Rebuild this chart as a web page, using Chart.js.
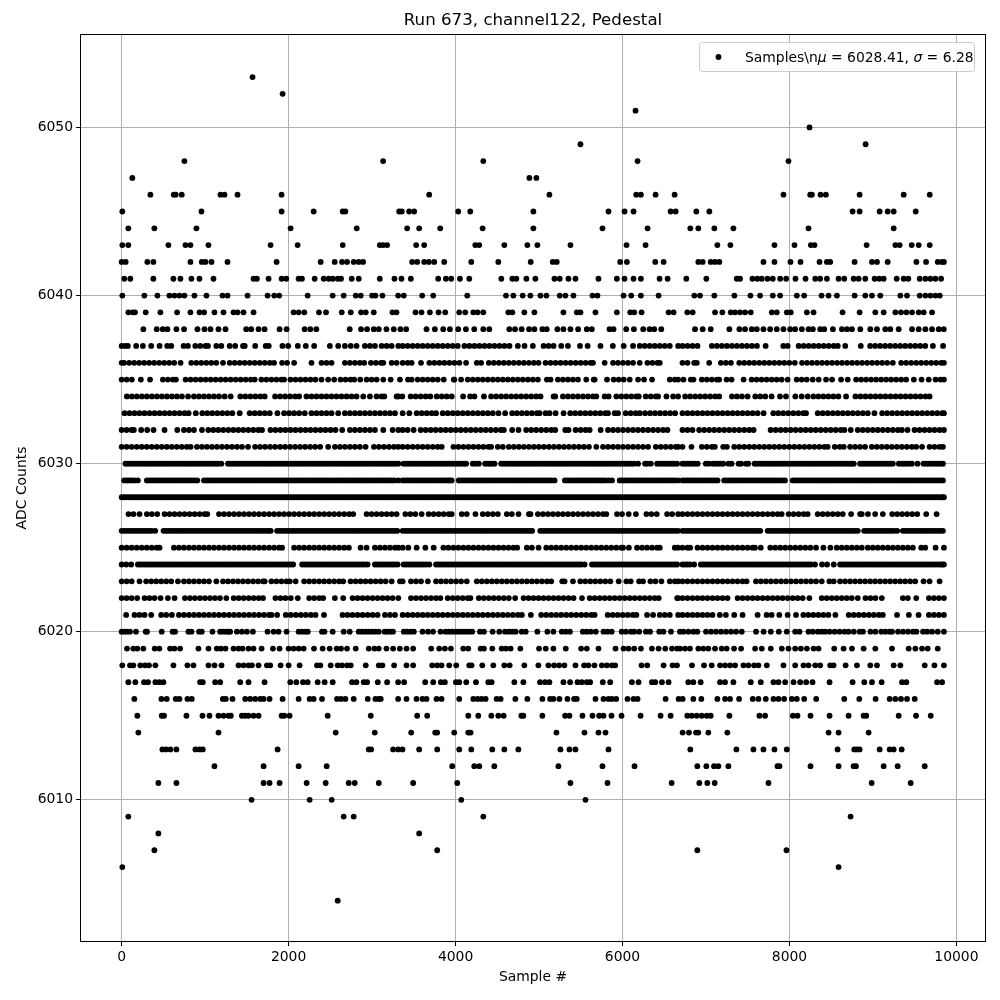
<!DOCTYPE html>
<html>
<head>
<meta charset="utf-8">
<style>body{margin:0;background:#fff}canvas{display:block}</style>
<script src="https://cdn.jsdelivr.net/npm/chart.js@4/dist/chart.umd.min.js"></script>
</head>
<body>
<canvas id="canvas" width="1000" height="1000"></canvas>
<script>
// sample numbers, one list per ADC level
const s6053=[1568];
const s6052=[1928];
const s6051=[6156];
const s6050=[8240];
const s6049=[5496,8912];
const s6048=[752,3132,4332,6180,7988];
const s6047=[128,4884,4968];
const s6046=[344,624,648,720,1184,1232,1388,1916,3684,5124,6164,6220,6396,6624,7928,8248,8268,8372,8436,8840,9368,9680];
const s6045=[8,956,1916,2300,2648,2680,3324,3356,3444,3504,4032,4176,4932,5832,6024,6132,6576,6636,6884,7040,8756,8840,9080,9176,9248,9512];
const s6044=[80,392,896,2024,2816,3420,3564,3816,4324,4932,5760,6300,6812,6908,7100,7328,8228,9248];
const s6043=[8,80,560,764,824,1040,1784,2108,2648,3092,3132,3180,3528,3624,4236,4284,4584,4860,4980,5376,6048,6276,7136,7292,7820,8060,8256,8300,8924,9268,9320,9464,9548,9680];
const s6042=[0,48,308,380,824,960,1004,1076,1268,1856,2384,2552,2640,2700,2780,2840,2892,3480,3540,3624,3680,3744,3864,4188,4512,4900,5164,5212,5972,6052,6392,6492,6908,6960,7056,7108,7160,7688,7820,8012,8132,8360,8448,8488,8780,8988,9048,9176,9520,9636,9776,9828,9850];
const s6041=[32,104,380,620,704,836,932,1100,1580,1620,1760,1916,1972,2120,2160,2312,2420,2480,2528,2588,2628,2756,2840,3092,3268,3352,3464,3792,3884,3948,4052,4164,4548,4680,4728,4848,4956,5184,5248,5352,5436,5712,5932,6024,6132,6220,6444,6540,6764,7004,7368,7408,7556,7616,7668,7736,7800,7888,7960,8072,8192,8308,8368,8448,8588,8656,8768,8828,8908,9020,9076,9128,9284,9368,9424,9560,9628,9688,9748,9816];
const s6040=[8,272,428,572,632,692,752,872,1016,1208,1268,1508,1748,1828,1888,2228,2528,2660,2804,2864,3000,3040,3124,3312,3380,3600,3732,4140,4604,4692,4804,4896,5016,5088,5248,5316,5412,5640,5700,6012,6104,6220,6432,6860,6928,7100,7340,7532,7648,7800,7888,8088,8176,8384,8468,8568,8780,8908,8988,9088,9328,9408,9560,9628,9688,9748,9800];
const s6039=[80,132,160,288,464,664,824,932,988,1112,1220,1340,1388,1460,1580,2060,2120,2188,2364,2448,2636,2744,2868,2924,3020,3244,3292,3520,3592,3692,3796,3876,4044,4116,4212,4264,4332,4632,4680,4824,4944,5292,5452,5496,5676,5932,6092,6140,6228,6552,6612,6776,6840,7108,7196,7296,7348,7408,7468,7536,7788,7848,7968,8016,8208,8288,8636,8840,9028,9128,9268,9336,9400,9468,9548,9608,9708];
const s6038=[260,420,492,548,656,748,908,992,1064,1160,1244,1492,1552,1640,1712,1892,1976,2192,2260,2332,2732,2868,2940,3020,3080,3172,3260,3340,3408,3652,3752,3852,3932,4032,4124,4224,4332,4404,4644,4712,4792,4880,4944,5040,5092,5220,5292,5376,5468,5572,5632,5844,5892,6044,6136,6248,6324,6380,6464,6868,6960,7056,7280,7400,7468,7548,7608,7688,7768,7848,7928,8008,8068,8148,8228,8280,8368,8416,8520,8628,8688,8748,8848,8968,9048,9148,9208,9308,9468,9548,9628,9708,9788,9848];
const s6037=[0,40,74,174,254,354,454,546,594,742,794,882,942,1004,1034,1134,1194,1294,1360,1454,1474,1600,1726,1762,1926,1994,2110,2206,2306,2494,2594,2674,2744,2814,2914,2974,3034,3114,3174,3234,3314,3366,3426,3486,3546,3606,3666,3726,3786,3846,3906,3966,4026,4106,4166,4226,4286,4346,4406,4466,4526,4586,4646,4746,4826,4926,5054,5114,5174,5266,5346,5490,5582,5736,5884,6014,6126,6206,6266,6326,6386,6446,6506,6566,6666,6718,6778,6838,6898,7070,7130,7190,7250,7310,7370,7430,7490,7550,7610,7714,7926,7978,8110,8170,8230,8290,8350,8410,8470,8530,8578,8668,8854,8966,9026,9086,9146,9206,9266,9326,9386,9446,9506,9566,9626,9718,9840];
const s6036=[0,30,90,150,210,270,330,390,450,510,570,630,706,834,894,954,1014,1074,1134,1214,1294,1354,1414,1474,1534,1594,1654,1714,1774,1826,1922,1982,2066,2274,2394,2454,2514,2674,2734,2794,2854,2906,2986,3046,3106,3134,3234,3294,3366,3426,3474,3586,3686,3746,3806,3866,3926,3986,4046,4126,4254,4306,4398,4458,4518,4578,4638,4698,4758,4818,4878,4938,4994,5078,5138,5198,5258,5318,5378,5438,5498,5558,5618,5646,5786,5886,5946,6006,6066,6126,6206,6298,6358,6418,6446,6718,6778,6858,6890,7038,7178,7238,7298,7398,7458,7518,7578,7638,7698,7758,7818,7878,7938,7998,8064,8150,8210,8270,8330,8390,8450,8510,8570,8630,8690,8750,8810,8870,8930,8990,9050,9110,9170,9238,9338,9398,9458,9518,9578,9638,9698,9758,9818,9850];
const s6035=[0,60,122,230,340,494,554,614,650,766,826,886,946,1006,1066,1126,1186,1246,1306,1366,1426,1486,1546,1594,1674,1734,1794,1854,1914,1946,2022,2082,2142,2202,2262,2322,2394,2474,2546,2622,2682,2742,2786,2858,2934,2994,3054,3134,3222,3334,3430,3474,3546,3606,3666,3726,3786,3858,3978,3986,4066,4146,4206,4266,4326,4386,4446,4506,4566,4626,4686,4746,4806,4866,4926,4986,5094,5138,5226,5286,5346,5406,5466,5566,5654,5666,5814,5894,5954,6014,6086,6186,6258,6354,6566,6626,6666,6730,6818,6850,6950,7010,7070,7130,7158,7246,7306,7450,7546,7606,7666,7726,7786,7846,7906,7978,8086,8146,8206,8278,8350,8438,8510,8618,8698,8798,8858,8918,8978,9038,9098,9158,9218,9278,9338,9398,9490,9582,9668,9750,9810,9850];
const s6034=[62,122,182,242,302,362,422,482,542,602,662,722,796,866,926,986,1046,1106,1166,1234,1306,1422,1482,1542,1602,1662,1714,1838,1898,1958,2018,2078,2126,2214,2274,2334,2394,2454,2514,2574,2634,2694,2754,2814,2894,2974,3054,3114,3146,3294,3314,3362,3462,3522,3582,3642,3698,3774,3834,3894,3954,4090,4174,4226,4340,4426,4486,4546,4606,4666,4726,4786,4846,4906,4966,5018,5174,5194,5286,5346,5406,5466,5526,5586,5646,5686,5786,5834,5926,5986,6046,6106,6166,6194,6278,6338,6398,6426,6526,6606,6666,6750,6810,6870,6930,6990,7050,7110,7158,7310,7370,7430,7498,7590,7650,7710,7786,7886,7958,8070,8146,8218,8286,8346,8406,8466,8526,8586,8678,8790,8850,8910,8970,9030,9090,9150,9210,9270,9330,9390,9450,9510,9570,9630,9678];
const s6033=[34,94,154,214,274,334,394,454,514,574,634,694,754,802,888,966,1026,1086,1146,1206,1266,1326,1414,1534,1594,1654,1714,1774,1866,1946,2006,2066,2126,2194,2274,2334,2394,2454,2514,2594,2674,2734,2794,2854,2914,2974,3034,3094,3154,3214,3274,3366,3446,3534,3594,3654,3714,3766,3846,3906,3966,4026,4086,4146,4206,4266,4326,4386,4446,4514,4594,4678,4734,4794,4854,4914,4974,5006,5078,5126,5198,5294,5374,5434,5494,5554,5614,5674,5734,5794,5826,5906,5946,6038,6098,6158,6206,6270,6330,6390,6450,6510,6570,6630,6718,6778,6838,6898,6958,7018,7078,7138,7198,7258,7318,7378,7438,7498,7558,7618,7690,7806,7866,7926,7986,8046,8106,8166,8198,8338,8398,8458,8518,8578,8638,8698,8758,8818,8878,8938,9018,9110,9170,9230,9290,9350,9410,9470,9530,9590,9650,9710,9770,9830,9850];
const s6032=[0,60,120,146,234,306,382,514,666,746,806,866,962,1038,1098,1158,1218,1278,1338,1398,1458,1518,1578,1638,1682,1782,1842,1902,1962,2022,2082,2142,2202,2262,2322,2382,2442,2502,2562,2642,2734,2794,2854,2914,2974,3034,3134,3246,3314,3366,3426,3498,3582,3642,3702,3762,3822,3882,3942,4002,4062,4122,4182,4242,4302,4362,4422,4482,4542,4578,4678,4754,4846,4906,4966,5026,5086,5146,5194,5314,5354,5438,5498,5558,5606,5738,5826,5886,5946,6006,6066,6126,6186,6246,6306,6366,6426,6486,6538,6718,6778,6838,6918,6978,7038,7098,7158,7218,7278,7338,7398,7458,7518,7570,7774,7834,7894,7954,8014,8074,8134,8194,8254,8314,8374,8434,8494,8554,8614,8658,8734,8818,8878,8938,8998,9058,9118,9178,9238,9298,9346,9414,9498,9558,9618,9678,9738,9798,9850];
const s6031=[0,60,120,180,240,300,360,420,480,540,600,660,720,780,826,902,962,1022,1082,1142,1202,1262,1322,1382,1442,1514,1598,1658,1718,1778,1838,1898,1958,2018,2078,2138,2198,2258,2318,2378,2474,2554,2614,2674,2734,2794,2854,2922,3022,3082,3142,3202,3262,3314,3366,3426,3486,3546,3606,3666,3726,3786,3834,3974,4034,4094,4154,4214,4274,4334,4394,4426,4506,4566,4638,4698,4758,4818,4878,4938,4998,5058,5118,5178,5238,5298,5358,5418,5478,5538,5598,5686,5766,5826,5886,5946,6006,6066,6126,6186,6246,6306,6398,6458,6518,6578,6638,6666,6718,6826,6950,7010,7070,7106,7206,7250,7338,7398,7458,7518,7578,7638,7698,7758,7818,7878,7938,7998,8058,8118,8178,8238,8298,8358,8418,8458,8542,8602,8650,8726,8786,8846,8906,8986,9046,9106,9166,9226,9286,9346,9406,9466,9518,9588,9678,9738,9798,9838];
const s6030=[46,106,166,226,286,346,406,466,526,586,646,706,766,826,886,946,1006,1066,1126,1194,1274,1334,1394,1454,1514,1574,1634,1694,1754,1814,1874,1934,1994,2054,2114,2174,2234,2294,2354,2414,2474,2534,2594,2654,2714,2774,2834,2894,2954,3014,3074,3134,3194,3254,3314,3378,3438,3498,3558,3618,3678,3738,3798,3858,3918,3978,4038,4098,4126,4206,4278,4354,4414,4466,4546,4606,4666,4726,4786,4846,4906,4966,5026,5086,5146,5206,5266,5326,5386,5446,5506,5566,5626,5686,5746,5806,5866,5926,5986,6046,6106,6186,6270,6338,6414,6474,6534,6594,6654,6718,6778,6838,6998,7086,7146,7206,7306,7390,7506,7582,7642,7702,7762,7822,7882,7942,8002,8062,8122,8182,8242,8302,8362,8422,8482,8542,8602,8662,8722,8770,8846,8906,8966,9026,9086,9146,9206,9238,9310,9370,9430,9466,9534,9606,9666,9726,9786,9838];
const t6030=[76,136,196,256,316,376,436,496,556,616,676,736,796,856,916,976,1036,1096,1154,1300,1364,1424,1484,1544,1604,1664,1724,1784,1844,1904,1964,2024,2084,2144,2204,2264,2324,2384,2444,2504,2564,2624,2684,2744,2804,2864,2924,2984,3044,3104,3164,3224,3284,3408,3468,3528,3588,3648,3708,3768,3828,3888,3948,4008,4068,4236,4384,4436,4576,4636,4696,4756,4816,4876,4936,4996,5056,5116,5176,5236,5296,5356,5416,5476,5536,5596,5656,5716,5776,5836,5896,5956,6016,6076,6136,6296,6444,6504,6564,6624,6748,6808,6868,6900,7036,7116,7176,7270,7420,7480,7612,7672,7732,7792,7852,7912,7972,8032,8092,8152,8212,8272,8332,8392,8452,8512,8572,8632,8692,8746,8876,8936,8996,9056,9116,9176,9340,9400,9636,9696,9756,9816];
const s6029=[30,90,150,194,302,362,422,482,542,602,662,722,782,842,906,986,1046,1106,1166,1226,1286,1346,1406,1466,1526,1586,1646,1706,1766,1826,1886,1946,2006,2066,2126,2186,2246,2306,2366,2426,2486,2546,2606,2666,2726,2786,2846,2906,2966,3026,3086,3146,3206,3266,3314,3366,3426,3486,3546,3606,3666,3726,3786,3846,3906,3954,4038,4098,4158,4218,4278,4338,4398,4458,4518,4578,4638,4698,4758,4818,4878,4938,4998,5058,5118,5186,5310,5370,5430,5490,5550,5610,5670,5730,5790,5874,5966,6026,6086,6146,6206,6266,6326,6386,6446,6506,6566,6626,6666,6718,6778,6838,6898,6958,7018,7078,7138,7218,7278,7338,7398,7458,7518,7578,7638,7698,7758,7818,7878,7946,8038,8098,8158,8218,8278,8338,8398,8458,8518,8578,8638,8698,8758,8818,8878,8938,8998,9058,9118,9178,9238,9298,9358,9418,9478,9538,9598,9658,9718,9778,9838];
const t6029=[60,120,332,392,452,512,572,632,692,752,812,874,1016,1076,1136,1196,1256,1316,1376,1436,1496,1556,1616,1676,1736,1796,1856,1916,1976,2036,2096,2156,2216,2276,2336,2396,2456,2516,2576,2636,2696,2756,2816,2876,2936,2996,3056,3116,3176,3236,3396,3456,3516,3576,3636,3696,3756,3816,3876,3926,4068,4128,4188,4248,4308,4368,4428,4488,4548,4608,4668,4728,4788,4848,4908,4968,5028,5088,5148,5340,5400,5460,5520,5580,5640,5700,5760,5830,5996,6056,6116,6176,6236,6296,6356,6416,6476,6536,6596,6748,6808,6868,6928,6988,7048,7108,7248,7308,7368,7428,7488,7548,7608,7668,7728,7788,7848,7912,8068,8128,8188,8248,8308,8368,8428,8488,8548,8608,8668,8728,8788,8848,8908,8968,9028,9088,9148,9208,9268,9328,9388,9448,9508,9568,9628,9688,9748,9808];
const s6028=[0,55,115,175,235,295,355,415,475,535,595,655,715,775,835,895,955,1015,1075,1135,1195,1255,1315,1375,1435,1495,1555,1615,1675,1735,1795,1855,1915,1975,2035,2095,2155,2215,2275,2335,2395,2455,2515,2575,2635,2695,2755,2815,2875,2935,2995,3055,3115,3175,3235,3295,3355,3415,3475,3535,3595,3655,3715,3775,3835,3895,3955,4015,4075,4135,4195,4255,4315,4375,4435,4495,4555,4615,4675,4735,4795,4855,4915,4975,5035,5095,5155,5215,5275,5335,5395,5455,5515,5575,5635,5695,5755,5815,5875,5935,5995,6055,6115,6175,6235,6295,6355,6415,6475,6535,6595,6655,6715,6775,6835,6895,6955,7015,7075,7135,7195,7255,7315,7375,7435,7495,7555,7615,7675,7735,7795,7855,7915,7975,8035,8095,8155,8215,8275,8335,8395,8455,8515,8575,8635,8695,8755,8815,8875,8935,8995,9055,9115,9175,9235,9295,9355,9415,9475,9535,9595,9655,9715,9775,9835,9850];
const t6028=[28,85,145,205,265,325,385,445,505,565,625,685,745,805,865,925,985,1045,1105,1165,1225,1285,1345,1405,1465,1525,1585,1645,1705,1765,1825,1885,1945,2005,2065,2125,2185,2245,2305,2365,2425,2485,2545,2605,2665,2725,2785,2845,2905,2965,3025,3085,3145,3205,3265,3325,3385,3445,3505,3565,3625,3685,3745,3805,3865,3925,3985,4045,4105,4165,4225,4285,4345,4405,4465,4525,4585,4645,4705,4765,4825,4885,4945,5005,5065,5125,5185,5245,5305,5365,5425,5485,5545,5605,5665,5725,5785,5845,5905,5965,6025,6085,6145,6205,6265,6325,6385,6445,6505,6565,6625,6685,6745,6805,6865,6925,6985,7045,7105,7165,7225,7285,7345,7405,7465,7525,7585,7645,7705,7765,7825,7885,7945,8005,8065,8125,8185,8245,8305,8365,8425,8485,8545,8605,8665,8725,8785,8845,8905,8965,9025,9085,9145,9205,9265,9325,9385,9445,9505,9565,9625,9685,9745,9805];
const s6027=[82,142,214,302,362,426,514,574,634,694,754,814,874,934,994,1026,1166,1226,1286,1346,1406,1466,1526,1586,1646,1706,1766,1826,1886,1946,2006,2066,2126,2186,2246,2306,2366,2426,2486,2546,2606,2666,2726,2774,2934,2994,3054,3114,3174,3234,3294,3398,3458,3518,3594,3678,3738,3798,3858,3918,3954,4074,4134,4238,4326,4386,4446,4506,4614,4674,4754,4878,4898,4986,5046,5106,5166,5226,5286,5346,5406,5466,5526,5586,5646,5706,5766,5806,5934,5994,6074,6160,6286,6346,6410,6534,6594,6666,6718,6778,6838,6898,6958,7018,7078,7138,7198,7258,7318,7378,7438,7498,7558,7618,7678,7738,7798,7858,7906,7990,8050,8110,8170,8218,8338,8398,8458,8518,8578,8638,8738,8846,8866,8940,9026,9118,9230,9290,9350,9410,9470,9530,9638,9762];
const s6026=[0,60,120,180,240,300,360,402,502,562,622,682,742,802,862,922,982,1042,1102,1162,1222,1282,1342,1402,1462,1522,1582,1642,1702,1762,1786,1862,1922,1982,2042,2102,2162,2222,2282,2342,2402,2462,2522,2582,2642,2702,2762,2822,2882,2942,3002,3062,3122,3182,3242,3302,3366,3426,3486,3546,3606,3666,3726,3786,3846,3906,3966,4026,4086,4146,4206,4266,4326,4386,4446,4506,4566,4626,4686,4746,4806,4866,4918,5014,5074,5134,5194,5254,5314,5374,5434,5494,5554,5614,5674,5734,5794,5854,5914,5974,6034,6094,6154,6214,6274,6334,6394,6454,6514,6574,6634,6666,6718,6778,6838,6898,6958,7018,7078,7138,7198,7258,7318,7378,7438,7498,7558,7618,7650,7738,7798,7858,7918,7978,8038,8098,8158,8218,8278,8338,8398,8458,8518,8578,8638,8698,8758,8818,8894,8954,9014,9074,9134,9194,9254,9290,9358,9418,9478,9538,9598,9658,9718,9778,9838];
const t6026=[30,90,150,210,270,330,532,592,652,712,772,832,892,952,1012,1072,1132,1192,1252,1312,1372,1432,1492,1552,1612,1672,1732,1892,1952,2012,2072,2132,2192,2252,2312,2372,2432,2492,2552,2612,2672,2732,2792,2852,2912,2972,3032,3092,3152,3212,3272,3396,3456,3516,3576,3636,3696,3756,3816,3876,3936,3996,4056,4116,4176,4236,4296,4356,4416,4476,4536,4596,4656,4716,4776,4836,4892,5044,5104,5164,5224,5284,5344,5404,5464,5524,5584,5644,5704,5764,5824,5884,5944,6004,6064,6124,6184,6244,6304,6364,6424,6484,6544,6604,6748,6808,6868,6928,6988,7048,7108,7168,7228,7288,7348,7408,7468,7528,7588,7768,7828,7888,7948,8008,8068,8128,8188,8248,8308,8368,8428,8488,8548,8608,8668,8728,8788,8924,8984,9044,9104,9164,9224,9388,9448,9508,9568,9628,9688,9748,9808];
const s6025=[0,60,120,180,240,300,360,420,454,626,686,746,806,866,926,986,1046,1106,1166,1226,1286,1346,1406,1466,1526,1586,1646,1706,1766,1826,1886,1922,2066,2126,2186,2246,2306,2366,2426,2486,2546,2606,2666,2722,2862,2934,3034,3094,3154,3214,3274,3314,3366,3434,3534,3638,3738,3854,3914,3974,4034,4094,4154,4214,4274,4334,4394,4454,4514,4574,4634,4694,4738,4854,4914,4994,5086,5146,5206,5266,5326,5386,5446,5506,5566,5626,5686,5746,5806,5866,5926,5986,6006,6076,6174,6234,6294,6354,6414,6446,6626,6666,6718,6778,6810,6898,6958,7018,7078,7138,7198,7258,7318,7378,7438,7498,7558,7586,7656,7770,7830,7890,7950,8010,8070,8130,8190,8250,8318,8406,8490,8566,8626,8686,8746,8806,8866,8938,8998,9058,9118,9178,9238,9298,9358,9418,9478,9578,9626,9750,9850];
const s6024=[0,55,114,194,254,314,374,434,494,554,614,674,734,794,854,914,974,1034,1094,1154,1214,1274,1334,1394,1454,1514,1574,1634,1694,1754,1814,1874,1934,1994,2054,2162,2222,2282,2342,2402,2462,2522,2582,2642,2702,2762,2822,2882,2946,3034,3094,3154,3214,3274,3306,3378,3438,3498,3558,3618,3686,3766,3826,3886,3946,4006,4066,4126,4186,4246,4306,4366,4426,4486,4546,4606,4666,4726,4786,4846,4906,4966,5026,5086,5146,5206,5266,5326,5386,5446,5506,5546,5634,5694,5754,5814,5874,5934,5994,6054,6114,6174,6234,6294,6354,6414,6474,6534,6594,6654,6718,6778,6858,6938,6998,7058,7118,7178,7238,7298,7358,7418,7478,7538,7598,7658,7718,7778,7838,7898,7958,8018,8078,8138,8198,8258,8306,8390,8450,8530,8606,8666,8726,8786,8846,8906,8966,9026,9086,9146,9206,9266,9326,9386,9446,9506,9566,9626,9686,9746,9806,9850];
const t6024=[224,284,344,404,464,524,584,644,704,764,824,884,944,1004,1064,1124,1184,1244,1304,1364,1424,1484,1544,1604,1664,1724,1784,1844,1904,1964,2024,2192,2252,2312,2372,2432,2492,2552,2612,2672,2732,2792,2852,2912,3064,3124,3184,3244,3408,3468,3528,3588,3648,3796,3856,3916,3976,4036,4096,4156,4216,4276,4336,4396,4456,4516,4576,4636,4696,4756,4816,4876,4936,4996,5056,5116,5176,5236,5296,5356,5416,5476,5664,5724,5784,5844,5904,5964,6024,6084,6144,6204,6264,6324,6384,6444,6504,6564,6624,6748,6808,6968,7028,7088,7148,7208,7268,7328,7388,7448,7508,7568,7628,7688,7748,7808,7868,7928,7988,8048,8108,8168,8228,8636,8696,8756,8816,8876,8936,8996,9056,9116,9176,9236,9296,9356,9416,9476,9536,9596,9656,9716,9776,9830];
const s6023=[0,60,120,214,294,354,414,474,534,594,674,746,806,866,926,986,1046,1134,1214,1274,1334,1394,1454,1514,1574,1634,1694,1714,1794,1854,1914,1974,2014,2084,2186,2246,2306,2366,2426,2486,2546,2606,2654,2742,2802,2862,2922,2982,3042,3102,3162,3234,3334,3366,3466,3526,3586,3668,3766,3826,3886,3946,4006,4066,4134,4254,4314,4374,4434,4494,4554,4614,4674,4734,4794,4854,4914,4974,5034,5094,5146,5278,5306,5406,5494,5554,5614,5674,5734,5794,5854,5954,6046,6098,6198,6246,6334,6394,6466,6566,6626,6666,6718,6778,6838,6898,6958,7018,7078,7138,7198,7258,7318,7378,7438,7486,7598,7658,7718,7778,7838,7898,7958,8018,8078,8138,8198,8258,8318,8386,8478,8530,8606,8666,8726,8786,8846,8906,8966,9026,9086,9146,9206,9266,9326,9386,9446,9506,9606,9678,9798];
const s6022=[0,60,120,186,274,334,394,466,554,634,758,818,878,938,998,1058,1118,1178,1254,1342,1402,1462,1522,1582,1642,1694,1842,1902,1962,2026,2110,2246,2306,2366,2414,2554,2654,2766,2826,2886,2946,3006,3066,3126,3186,3246,3314,3466,3526,3586,3646,3706,3766,3818,3906,3966,4026,4086,4146,4178,4278,4338,4398,4458,4518,4578,4638,4714,4814,4874,4934,4994,5054,5114,5174,5234,5294,5354,5414,5514,5606,5666,5726,5786,5846,5906,5966,6026,6086,6146,6206,6266,6326,6386,6434,6654,6666,6718,6778,6838,6898,6958,7018,7078,7138,7198,7258,7378,7438,7498,7558,7618,7678,7738,7798,7858,7918,7978,8038,8098,8158,8238,8386,8446,8506,8566,8626,8686,8746,8818,8910,8970,9030,9106,9358,9418,9518,9670,9730,9790,9850];
const s6021=[54,154,214,274,354,474,534,602,686,746,806,866,926,986,1046,1106,1166,1226,1286,1346,1406,1466,1526,1586,1646,1706,1766,1794,1862,1966,2026,2086,2146,2206,2266,2322,2424,2646,2706,2766,2826,2886,2946,3006,3066,3154,3214,3274,3366,3426,3486,3546,3606,3666,3726,3786,3846,3906,3966,4026,4086,4146,4206,4266,4326,4386,4446,4506,4566,4626,4686,4746,4794,4902,5026,5086,5146,5206,5266,5326,5386,5446,5506,5566,5626,5666,5822,5882,5942,6002,6062,6122,6166,6294,6366,6446,6506,6566,6666,6718,6778,6838,6898,6958,7018,7078,7166,7238,7338,7438,7618,7726,7786,7878,7978,8078,8166,8226,8286,8346,8406,8466,8550,8710,8770,8830,8890,8950,9010,9070,9118,9288,9430,9546,9670,9730,9790,9850];
const s6020=[0,32,64,100,172,288,304,480,610,640,800,836,928,960,1088,1180,1216,1250,1280,1300,1380,1440,1500,1572,1748,1820,1880,1976,2120,2160,2200,2230,2400,2430,2528,2660,2732,2840,2880,2920,2960,3000,3040,3080,3150,3180,3220,3250,3380,3420,3460,3500,3604,3670,3730,3820,3880,3920,3960,4000,4040,4080,4120,4160,4200,4292,4340,4444,4524,4592,4640,4680,4720,4792,4840,4980,5100,5172,5272,5320,5370,5524,5570,5620,5680,5772,5820,5870,5990,6040,6100,6140,6200,6280,6330,6440,6490,6580,6688,6730,6790,6850,6896,7000,7060,7120,7180,7240,7300,7360,7428,7600,7690,7776,7872,7968,8068,8120,8228,8280,8340,8388,8428,8480,8540,8600,8660,8708,8770,8840,8880,8970,9030,9100,9150,9200,9228,9300,9360,9420,9480,9520,9600,9650,9708,9776,9850];
const s6019=[64,140,188,260,396,452,580,632,700,920,1040,1140,1188,1244,1340,1400,1448,1520,1580,1676,1812,1892,2000,2060,2120,2180,2304,2408,2492,2576,2628,2700,2804,2960,3028,3080,3172,3252,3332,3412,3492,3708,3804,3872,3944,4092,4152,4300,4340,4440,4552,4604,4660,4776,5000,5080,5172,5320,5504,5572,5712,5916,6012,6072,6140,6220,6352,6432,6512,6592,6652,6688,6748,6808,6908,6968,7028,7108,7188,7248,7336,7420,7588,7668,7776,7908,7988,8068,8136,8208,8288,8348,8536,8648,8748,8888,9028,9228,9428,9508,9588,9656,9776];
const s6018=[8,100,140,224,280,328,404,620,788,860,1040,1112,1196,1400,1460,1520,1560,1640,1740,1780,1904,2000,2132,2340,2380,2504,2588,2640,2700,2744,2924,3080,3124,3264,3412,3492,3720,3780,3832,3924,4008,4164,4192,4320,4452,4584,4648,4824,4992,5112,5180,5240,5304,5436,5540,5592,5664,5752,5812,5872,5912,6228,6296,6492,6600,6652,6832,6976,7068,7168,7228,7288,7348,7448,7508,7576,7628,7728,7928,8068,8168,8228,8308,8368,8488,8528,8672,8808,8968,9048,9248,9328,9620,9736,9850];
const s6017=[80,164,268,316,404,452,500,940,972,1120,1180,1420,1520,1712,2020,2092,2172,2228,2348,2432,2528,2760,2812,2900,2940,3068,3180,3312,3384,3636,3732,3824,3872,4004,4044,4128,4244,4392,4432,4704,4812,5012,5072,5124,5292,5372,5460,5512,5572,5612,5764,5852,6112,6192,6352,6392,6472,6552,6788,6848,6936,7168,7228,7328,7536,7656,7808,7868,7948,8048,8128,8200,8276,8480,8756,8896,8988,9104,9348,9400,9768,9828];
const s6016=[152,476,540,648,692,788,840,1212,1248,1328,1480,1540,1600,1660,1700,1772,1928,2120,2252,2300,2400,2580,2628,2680,2780,2948,3040,3080,3104,3312,3412,3532,3604,3652,3772,3832,4044,4212,4264,4312,4360,4492,4540,4716,4860,5040,5132,5172,5244,5340,5420,5452,5676,5772,5832,5872,5924,6060,6132,6180,6516,6672,6720,6848,6944,7136,7228,7288,7396,7560,7628,7716,7808,7868,7936,8028,8088,8176,8320,8656,8836,9032,9200,9268,9336,9408,9500];
const s6015=[188,480,508,776,968,1052,1160,1220,1280,1308,1440,1480,1520,1580,1640,1916,1948,2012,2468,2984,3540,3660,4152,4272,4428,4512,4576,4788,4812,5040,5312,5364,5520,5640,5720,5772,5868,5988,6216,6456,6576,6776,6828,6888,6948,7008,7056,7280,7640,7708,8040,8096,8252,8480,8708,8888,8920,9308,9516,9692];
const s6014=[200,1160,2564,3032,3468,3756,3780,3984,4152,4180,5208,5544,5712,5796,6720,6796,6880,6908,7028,7256,8468,8588,8948];
const s6013=[488,532,584,656,884,932,972,1868,2960,2988,3252,3312,3364,3564,3780,4044,4188,4440,4584,4752,5256,5364,5436,5832,6812,7364,7568,7688,7820,7968,8576,8776,8808,8840,9080,9200,9248,9344];
const s6012=[1112,1700,2120,2456,3960,4224,4284,4464,5232,5760,6144,6896,7004,7096,7148,7268,7856,7880,8252,8588,8768,8796,9128,9296,9620];
const s6011=[440,656,1700,1772,1892,2216,2444,2720,2792,3080,3492,4020,5376,5820,6588,6920,7016,7104,7748,8984,9452];
const s6010=[1556,2252,2516,4068,5556];
const s6009=[80,2660,2780,4332,8732];
const s6008=[440,3564];
const s6007=[392,3780,6896,7964];
const s6006=[8,8588];
const s6004=[2588];

const levels=[6053,6052,6051,6050,6049,6048,6047,6046,6045,6044,6043,6042,6041,6040,6039,6038,6037,6036,6035,6034,6033,6032,6031,6030,6030,6029,6029,6028,6028,6027,6026,6026,6025,6024,6024,6023,6022,6021,6020,6019,6018,6017,6016,6015,6014,6013,6012,6011,6010,6009,6008,6007,6006,6004];
const samplesByLevel=[s6053,s6052,s6051,s6050,s6049,s6048,s6047,s6046,s6045,s6044,s6043,s6042,s6041,s6040,s6039,s6038,s6037,s6036,s6035,s6034,s6033,s6032,s6031,s6030,t6030,s6029,t6029,s6028,t6028,s6027,s6026,t6026,s6025,s6024,t6024,s6023,s6022,s6021,s6020,s6019,s6018,s6017,s6016,s6015,s6014,s6013,s6012,s6011,s6010,s6009,s6008,s6007,s6006,s6004];
const xTicks=[0,2000,4000,6000,8000,10000];
const yTicks=[6010,6020,6030,6040,6050];

const points=[];
levels.forEach((lvl,i)=>samplesByLevel[i].forEach(x=>points.push({x:x,y:lvl})));

const FONT='"DejaVu Sans"';

// matplotlib style frame and legend box (mu and sigma are italic so text goes in pieces)
const framePlugin={
  id:'frame',
  afterDatasetsDraw(chart){
    const a=chart.chartArea, ctx=chart.ctx;
    ctx.save();
    ctx.strokeStyle='#000';ctx.lineWidth=1;
    ctx.strokeRect(Math.round(a.left)-0.5,Math.round(a.top)-0.5,Math.round(a.right-a.left)+1,Math.round(a.bottom-a.top)+1);
    const bx=a.right-285.5, by=a.top+7.5;
    ctx.beginPath();ctx.roundRect(bx,by,275,29,3);
    ctx.fillStyle='rgba(255,255,255,0.8)';ctx.fill();
    ctx.strokeStyle='#ccc';ctx.stroke();
    ctx.fillStyle='#000';
    ctx.beginPath();ctx.arc(bx+19,by+14.5,2.9,0,Math.PI*2);ctx.fill();
    let tx=bx+45.5;
    ctx.textBaseline='alphabetic';
    [['Samples\\n',''],['\u03BC','italic '],[' = 6028.41, ',''],['\u03C3','italic '],[' = 6.28','']].forEach(p=>{
      ctx.font=p[1]+'13.9px '+FONT;
      ctx.fillText(p[0],tx,by+19);
      tx+=ctx.measureText(p[0]).width;
    });
    ctx.restore();
  }
};

new Chart(document.getElementById('canvas').getContext('2d'),{
  type:'scatter',
  data:{datasets:[{label:'Samples',data:points,backgroundColor:'#000',borderWidth:0,pointRadius:2.9,pointHoverRadius:2.9}]},
  options:{
    responsive:false,
    animation:false,
    parsing:false,
    normalized:true,
    layout:{padding:{top:0,left:0,right:15,bottom:0}},
    plugins:{
      legend:{display:false},
      tooltip:{enabled:false},
      title:{display:true,text:'Run 673, channel122, Pedestal',fullSize:false,color:'#000',
        font:{family:FONT,size:16.67,weight:'normal'},padding:{top:11,bottom:4}}
    },
    scales:{
      x:{
        type:'linear',min:-487,max:10342,
        afterBuildTicks:s=>{s.ticks=xTicks.map(v=>({value:v}))},
        afterFit:s=>{s.height=59},
        title:{display:true,text:'Sample #',color:'#000',font:{family:FONT,size:13.9},padding:{top:0,bottom:14}},
        ticks:{color:'#000',font:{family:FONT,size:13.9},maxRotation:0,autoSkip:false,padding:3,callback:v=>String(v)},
        grid:{color:'#b0b0b0',lineWidth:1,tickColor:'#000',tickLength:5},
        border:{display:false}
      },
      y:{
        min:6001.6,max:6055.5,
        afterBuildTicks:s=>{s.ticks=yTicks.map(v=>({value:v}))},
        afterFit:s=>{s.width=81},
        title:{display:true,text:'ADC Counts',color:'#000',font:{family:FONT,size:13.9},padding:{top:14,bottom:0}},
        ticks:{color:'#000',font:{family:FONT,size:13.9},autoSkip:false,padding:3,callback:v=>String(v)},
        grid:{color:'#b0b0b0',lineWidth:1,tickColor:'#000',tickLength:5},
        border:{display:false}
      }
    }
  },
  plugins:[framePlugin]
});
</script>
</body>
</html>
